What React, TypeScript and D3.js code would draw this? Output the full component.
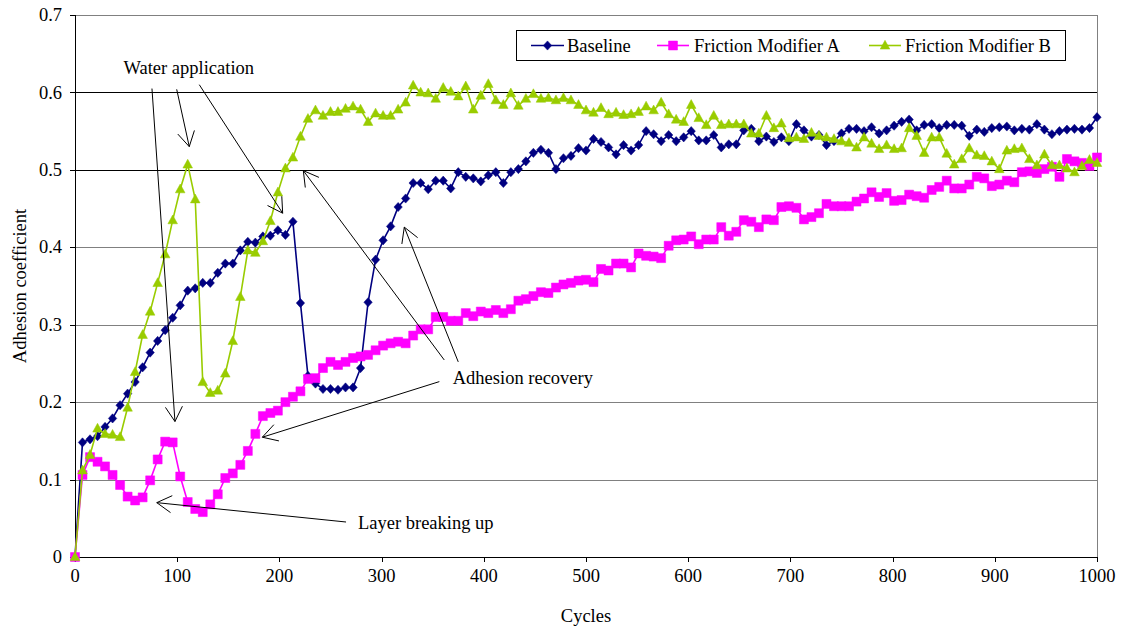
import React from 'react';
import * as d3 from 'd3';

// sampling interval of the test rig, in cycles
const STEP = 1000 / 136;

const baseline = [
  0, 0.148, 0.152, 0.156, 0.168, 0.179, 0.196, 0.211, 0.226, 0.245,
  0.264, 0.279, 0.293, 0.309, 0.325, 0.344, 0.347, 0.354, 0.354, 0.367,
  0.379, 0.379, 0.396, 0.407, 0.406, 0.414, 0.415, 0.422, 0.416, 0.433,
  0.328, 0.234, 0.224, 0.217, 0.217, 0.216, 0.219, 0.219, 0.244, 0.329,
  0.384, 0.409, 0.427, 0.452, 0.463, 0.483, 0.483, 0.475, 0.486, 0.486,
  0.476, 0.497, 0.491, 0.489, 0.485, 0.493, 0.497, 0.483, 0.497, 0.501,
  0.511, 0.522, 0.526, 0.522, 0.501, 0.515, 0.518, 0.528, 0.525, 0.540,
  0.536, 0.529, 0.520, 0.532, 0.525, 0.532, 0.550, 0.546, 0.537, 0.545,
  0.537, 0.542, 0.550, 0.538, 0.538, 0.545, 0.529, 0.533, 0.533, 0.551,
  0.553, 0.537, 0.543, 0.536, 0.542, 0.537, 0.559, 0.551, 0.543, 0.545,
  0.532, 0.537, 0.547, 0.553, 0.553, 0.550, 0.555, 0.547, 0.551, 0.557,
  0.562, 0.565, 0.551, 0.558, 0.559, 0.554, 0.558, 0.558, 0.557, 0.544,
  0.552, 0.549, 0.554, 0.555, 0.556, 0.551, 0.553, 0.552, 0.559, 0.552,
  0.546, 0.550, 0.552, 0.553, 0.552, 0.554, 0.568,
];

const modifierA = [
  0, 0.106, 0.129, 0.123, 0.117, 0.106, 0.093, 0.078, 0.073, 0.077,
  0.099, 0.126, 0.149, 0.148, 0.104, 0.071, 0.062, 0.058, 0.068, 0.081,
  0.102, 0.108, 0.119, 0.137, 0.159, 0.182, 0.186, 0.189, 0.200, 0.207,
  0.214, 0.230, 0.231, 0.244, 0.252, 0.248, 0.252, 0.257, 0.259, 0.261,
  0.267, 0.273, 0.276, 0.278, 0.276, 0.286, 0.294, 0.294, 0.310, 0.310,
  0.305, 0.305, 0.315, 0.311, 0.317, 0.315, 0.319, 0.315, 0.320, 0.331,
  0.333, 0.337, 0.342, 0.341, 0.348, 0.352, 0.354, 0.357, 0.358, 0.355,
  0.372, 0.370, 0.379, 0.379, 0.374, 0.392, 0.389, 0.388, 0.386, 0.402,
  0.409, 0.410, 0.414, 0.404, 0.410, 0.410, 0.426, 0.415, 0.420, 0.435,
  0.433, 0.426, 0.436, 0.435, 0.452, 0.453, 0.451, 0.436, 0.439, 0.444,
  0.456, 0.453, 0.453, 0.453, 0.459, 0.463, 0.471, 0.465, 0.470, 0.460,
  0.461, 0.468, 0.466, 0.464, 0.474, 0.478, 0.486, 0.476, 0.476, 0.481,
  0.491, 0.489, 0.479, 0.481, 0.486, 0.484, 0.497, 0.498, 0.496, 0.501,
  0.504, 0.491, 0.514, 0.511, 0.509, 0.505, 0.516,
];

const modifierB = [
  0, 0.112, 0.132, 0.166, 0.159, 0.158, 0.155, 0.193, 0.239, 0.287,
  0.317, 0.354, 0.391, 0.435, 0.475, 0.507, 0.462, 0.226, 0.212, 0.215,
  0.237, 0.279, 0.336, 0.396, 0.393, 0.408, 0.434, 0.471, 0.502, 0.516,
  0.543, 0.566, 0.577, 0.570, 0.575, 0.575, 0.579, 0.582, 0.578, 0.562,
  0.573, 0.570, 0.570, 0.578, 0.587, 0.609, 0.600, 0.599, 0.592, 0.606,
  0.601, 0.595, 0.608, 0.578, 0.596, 0.611, 0.590, 0.584, 0.599, 0.583,
  0.592, 0.598, 0.592, 0.593, 0.590, 0.593, 0.590, 0.584, 0.577, 0.574,
  0.580, 0.572, 0.574, 0.571, 0.572, 0.575, 0.582, 0.577, 0.587, 0.572,
  0.565, 0.562, 0.584, 0.567, 0.558, 0.570, 0.558, 0.559, 0.559, 0.559,
  0.547, 0.547, 0.570, 0.554, 0.560, 0.541, 0.542, 0.540, 0.548, 0.544,
  0.542, 0.540, 0.537, 0.535, 0.529, 0.542, 0.534, 0.527, 0.532, 0.527,
  0.528, 0.554, 0.544, 0.522, 0.542, 0.542, 0.521, 0.507, 0.514, 0.528,
  0.519, 0.518, 0.511, 0.501, 0.525, 0.527, 0.528, 0.514, 0.506, 0.520,
  0.506, 0.506, 0.502, 0.497, 0.505, 0.513, 0.509,
];

const xTicks = [0, 100, 200, 300, 400, 500, 600, 700, 800, 900, 1000];
const yTicks = [0, 0.1, 0.2, 0.3, 0.4, 0.5, 0.6, 0.7];

// annotation labels and arrows, in data units [cycles, adhesion]
const notes = [
  { text: 'Water application', at: [47.5, 0.624] },
  { text: 'Adhesion recovery', at: [369.6, 0.224] },
  { text: 'Layer breaking up', at: [276.9, 0.036] },
];
const arrows = [
  { from: [75.3, 0.605], to: [97.8, 0.175] },
  { from: [99.5, 0.604], to: [111.8, 0.53] },
  { from: [121.6, 0.61], to: [203.2, 0.444] },
  { from: [361.3, 0.2545], to: [223.4, 0.499] },
  { from: [375, 0.252], to: [322.2, 0.426] },
  { from: [356.5, 0.2265], to: [183.3, 0.1547] },
  { from: [265.2, 0.0452], to: [80, 0.0702] },
];

const series = [
  { name: 'Baseline', values: baseline, color: '#000080', marker: 'diamond' },
  { name: 'Friction Modifier A', values: modifierA, color: '#FF00FF', marker: 'square' },
  { name: 'Friction Modifier B', values: modifierB, color: '#99CC00', marker: 'triangle' },
];

const W = 1125;
const H = 628;
const M = { left: 75, right: 1097, top: 15, bottom: 557 };
const FONT = '"Liberation Serif", "Times New Roman", serif';

function markerPath(kind: string) {
  if (kind === 'diamond') return 'M0,-4.6L4.2,0L0,4.6L-4.2,0Z';
  if (kind === 'square') return 'M-4.5,-4.5H4.5V4.5H-4.5Z';
  return 'M0,-5.2L4.8,3.6L-4.8,3.6Z';
}

function Marker({ kind, color, tx, ty }) {
  return <path d={markerPath(kind)} transform={`translate(${tx},${ty})`} fill={color} stroke={color} strokeWidth={0.5} />;
}

export default function App() {
  const x = d3.scaleLinear().domain([0, 1000]).range([M.left, M.right]);
  const y = d3.scaleLinear().domain([0, 0.7]).range([M.bottom, M.top]);
  const line = d3.line<number>().x((_, i) => x(i * STEP)).y((d) => y(d));

  const head = (fx: number, fy: number, tx: number, ty: number) => {
    const a = Math.atan2(fy - ty, fx - tx);
    const L = 17;
    const t = (30 * Math.PI) / 180;
    return `M${tx + L * Math.cos(a + t)},${ty + L * Math.sin(a + t)}L${tx},${ty}L${tx + L * Math.cos(a - t)},${ty + L * Math.sin(a - t)}`;
  };

  const legend = [
    { x1: 531, x2: 564, tx: 567 },
    { x1: 657, x2: 689, tx: 694 },
    { x1: 869, x2: 901, tx: 905 },
  ];

  return (
    <svg width={W} height={H} style={{ position: 'absolute', left: 0, top: 0, background: '#fff' }} fontFamily={FONT}>
      {/* gridlines */}
      {yTicks.map((t) => (
        <line
          key={t}
          x1={M.left}
          x2={M.right}
          y1={Math.round(y(t)) + 0.5}
          y2={Math.round(y(t)) + 0.5}
          stroke={t === 0.5 || t === 0.6 || t === 0 ? '#000' : '#808080'}
          strokeWidth={1}
        />
      ))}
      <line x1={M.right + 0.5} x2={M.right + 0.5} y1={M.top} y2={M.bottom} stroke="#808080" />
      <line x1={M.left + 0.5} x2={M.left + 0.5} y1={M.top} y2={M.bottom + 0.5} stroke="#000" />

      {/* y axis */}
      {yTicks.map((t) => (
        <g key={t}>
          <line x1={M.left - 5} x2={M.left} y1={Math.round(y(t)) + 0.5} y2={Math.round(y(t)) + 0.5} stroke="#000" />
          <text x={M.left - 13} y={y(t)} dy="0.33em" textAnchor="end" fontSize={18.5}>
            {t === 0 ? '0' : t.toFixed(1)}
          </text>
        </g>
      ))}
      {/* x axis */}
      {xTicks.map((t) => (
        <g key={t}>
          <line x1={Math.round(x(t)) + 0.5} x2={Math.round(x(t)) + 0.5} y1={M.bottom} y2={M.bottom + 5} stroke="#000" />
          <text x={x(t)} y={582} textAnchor="middle" fontSize={18.5}>
            {t}
          </text>
        </g>
      ))}
      <text x={(M.left + M.right) / 2} y={622} textAnchor="middle" fontSize={18.5}>
        Cycles
      </text>
      <text transform={`translate(20,${(M.top + M.bottom) / 2}) rotate(-90)`} textAnchor="middle" dy="0.33em" fontSize={18.5}>
        Adhesion coefficient
      </text>

      {/* series */}
      {series.map((s) => (
        <g key={s.name}>
          <path d={line(s.values) || ''} fill="none" stroke={s.color} strokeWidth={1.6} />
          {s.values.map((v, i) => (
            <Marker key={i} kind={s.marker} color={s.color} tx={x(i * STEP)} ty={y(v)} />
          ))}
        </g>
      ))}

      {/* annotations */}
      {arrows.map((a, i) => {
        const fx = x(a.from[0]);
        const fy = y(a.from[1]);
        const tx = x(a.to[0]);
        const ty = y(a.to[1]);
        return (
          <g key={i} fill="none" stroke="#000" strokeWidth={1}>
            <line x1={fx} y1={fy} x2={tx} y2={ty} />
            <path d={head(fx, fy, tx, ty)} />
          </g>
        );
      })}
      {notes.map((n) => (
        <text key={n.text} x={x(n.at[0])} y={y(n.at[1])} fontSize={18.5}>
          {n.text}
        </text>
      ))}

      {/* legend */}
      <rect x={516.5} y={30.5} width={549} height={30} fill="#fff" stroke="#000" />
      {series.map((s, i) => (
        <g key={s.name}>
          <line x1={legend[i].x1} x2={legend[i].x2} y1={45.5} y2={45.5} stroke={s.color} strokeWidth={1.6} />
          <Marker kind={s.marker} color={s.color} tx={(legend[i].x1 + legend[i].x2) / 2} ty={45.5} />
          <text x={legend[i].tx} y={45.5} dy="0.33em" fontSize={18.5}>
            {s.name}
          </text>
        </g>
      ))}
    </svg>
  );
}
